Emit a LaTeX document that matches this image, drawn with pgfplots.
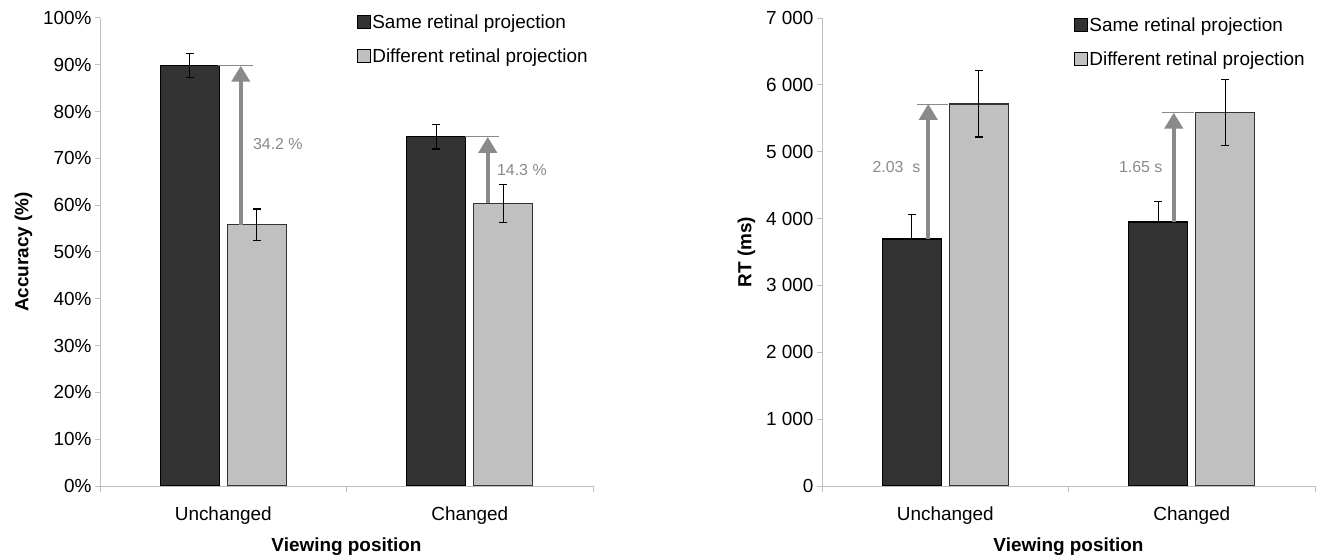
\documentclass[border=0pt]{standalone}
\usepackage{fontspec}
\setmainfont{Liberation Sans}
\usepackage{pgfplots}
\pgfplotsset{compat=1.18}
\usetikzlibrary{arrows.meta}
\definecolor{darkbar}{HTML}{333333}
\definecolor{lightbar}{HTML}{C0C0C0}
\definecolor{arrowgray}{HTML}{8A8A8A}
\definecolor{axisgray}{HTML}{BFBFBF}

\pgfplotsset{
  panel/.style={
    scale only axis, width=493bp, height=468bp,
    xmin=-0.5, xmax=1.5, ymin=0,
    axis x line*=bottom, axis y line*=left,
    axis line style={axisgray, line width=1bp},
    tick align=outside,
    xtick={0,1}, xticklabels={Unchanged,Changed},
    minor xtick={-0.5,0.5,1.5},
    major x tick style={draw=none},
    minor x tick style={axisgray, line width=1bp},
    minor tick length=6bp,
    ytick style={axisgray, line width=1bp},
    major tick length=5bp,
    /pgf/number format/assume math mode=true,
    tick label style={font=\fontsize{19}{22}\selectfont, black},
    xticklabel style={yshift=-12bp},
    label style={font=\fontsize{19}{22}\selectfont\bfseries},
    xlabel style={yshift=-7bp},
    ylabel style={yshift=4bp},
    xlabel={Viewing position},
    legend style={draw=none, fill=none, font=\fontsize{19}{22}\selectfont,
      anchor=north west, row sep=15bp, inner sep=0pt},
    legend cell align=left,
    bar width=59bp,
  },
  darkbars/.style={ybar, bar shift=0pt, fill=darkbar, draw=black, line width=1.2bp,
    legend image code/.code={\draw[fill=darkbar, draw=black, line width=0.8bp] (0bp,-6.5bp) rectangle (13bp,6.5bp);},
    error bars/.cd, y dir=both, y explicit,
    error bar style={black, line width=1.2bp},
    error mark options={rotate=90, black, mark size=3.8bp, line width=1.2bp}},
  lightbars/.style={ybar, bar shift=0pt, fill=lightbar, draw=black!80, line width=1.2bp,
    legend image code/.code={\draw[fill=lightbar, draw=black, line width=0.8bp] (0bp,-6.5bp) rectangle (13bp,6.5bp);},
    error bars/.cd, y dir=both, y explicit,
    error bar style={black, line width=1.2bp},
    error mark options={rotate=90, black, mark size=3.8bp, line width=1.2bp}},
}
\tikzset{
  diffarrow/.style={arrowgray, line width=4bp, -{Triangle[width=18bp,length=16bp]}},
  refline/.style={arrowgray, line width=0.8bp},
  difflabel/.style={arrowgray, font=\fontsize{16}{19}\selectfont, inner sep=0pt},
}

\begin{document}
\begin{tikzpicture}
\useasboundingbox (0bp,0bp) rectangle (1317bp,556bp);

% left panel: accuracy
\begin{axis}[panel, at={(100bp,70bp)}, anchor=south west,
    ymax=100, ytick={0,10,...,100},
    yticklabel={\pgfmathprintnumber{\tick}\%},
    ylabel={Accuracy (\%)},
    legend style={at={(0.52,1.012)}}]
  \addplot[darkbars] coordinates {(-0.136,89.8) +- (0,2.6) (0.864,74.6) +- (0,2.6)};
  \addplot[lightbars] coordinates {(0.136,55.8) +- (0,3.4) (1.136,60.4) +- (0,4.1)};
  \legend{Same retinal projection, Different retinal projection}
  \draw[refline] (axis cs:-0.02,89.8) -- (axis cs:0.12,89.8);
  \draw[diffarrow] (axis cs:0.071,55.8) -- (axis cs:0.071,89.8);
  \node[difflabel, anchor=west] at (axis cs:0.12,73) {34.2 \%};
  \draw[refline] (axis cs:0.98,74.6) -- (axis cs:1.118,74.6);
  \draw[diffarrow] (axis cs:1.073,60.4) -- (axis cs:1.073,74.6);
  \node[difflabel, anchor=west] at (axis cs:1.11,67.5) {14.3 \%};
\end{axis}

% right panel: reaction time
\begin{axis}[panel, at={(822bp,70bp)}, anchor=south west,
    ymax=7000, ytick={0,1000,...,7000},
    yticklabel={\pgfmathprintnumber[1000 sep={\ }]{\tick}},
    ylabel={RT (ms)},
    legend style={at={(0.51,1.006)}}]
  \addplot[darkbars, /pgfplots/error bars/y dir=plus] coordinates {(-0.136,3695) +- (0,365) (0.864,3950) +- (0,305)};
  \addplot[lightbars] coordinates {(0.136,5715) +- (0,495) (1.136,5585) +- (0,490)};
  \legend{Same retinal projection, Different retinal projection}
  \draw[refline] (axis cs:-0.114,5715) -- (axis cs:0.012,5715);
  \draw[diffarrow] (axis cs:-0.069,3695) -- (axis cs:-0.069,5715);
  \node[difflabel, anchor=east] at (axis cs:-0.1,4770) {2.03\ \ s};
  \draw[refline] (axis cs:0.88,5585) -- (axis cs:1.01,5585);
  \draw[diffarrow] (axis cs:0.927,3950) -- (axis cs:0.927,5585);
  \node[difflabel, anchor=east] at (axis cs:0.882,4770) {1.65 s};
\end{axis}
\end{tikzpicture}
\end{document}
